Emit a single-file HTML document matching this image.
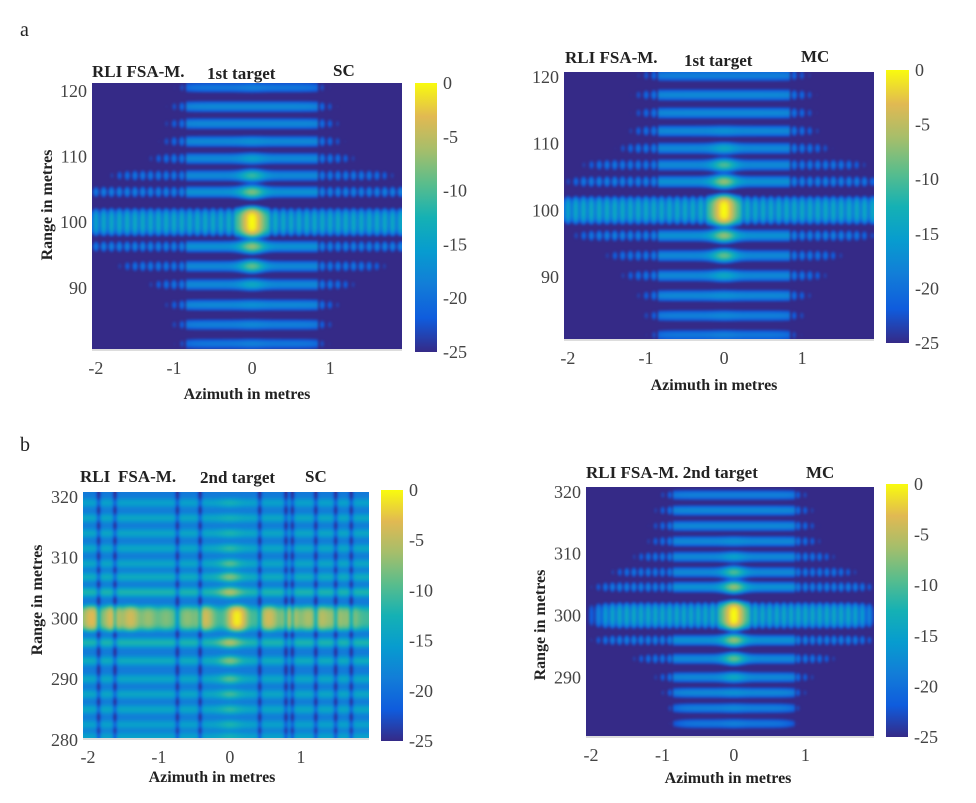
<!DOCTYPE html>
<html><head><meta charset="utf-8">
<style>
html,body{margin:0;padding:0;background:#fff;}
#root{position:relative;width:976px;height:803px;overflow:hidden;background:#fff;font-family:"Liberation Serif",serif;}
canvas{position:absolute;}
svg{position:absolute;left:0;top:0;}
.cb{position:absolute;background:linear-gradient(to top,#352a87 0%,#0f5cdd 12.5%,#127dd8 25%,#079ccf 37.5%,#15b1b4 50%,#59bd8c 62.5%,#a5be6b 75%,#e1b952 87.5%,#f9fb0e 100%);}
</style></head>
<body>
<div id="root">
<canvas id="c1"></canvas>
<canvas id="c2"></canvas>
<canvas id="c3"></canvas>
<canvas id="c4"></canvas>
<div class="cb" style="left:415px;top:83px;width:22px;height:269px"></div>
<div class="cb" style="left:886px;top:70px;width:23px;height:273px"></div>
<div class="cb" style="left:381px;top:490px;width:22px;height:251px"></div>
<div class="cb" style="left:886px;top:484px;width:22px;height:253px"></div>
<svg id="ov" width="976" height="803"></svg>
</div>
<script>
// ---- data (dB levels) ----
const cbTicks=[0,-5,-10,-15,-20,-25];
const xTicks=[-2,-1,0,1];
const yTicksA=[120,110,100,90];
const yTicksB=[320,310,300,290,280];
const yTicksB2=[320,310,300,290];
// panel 1 (1st target SC)
const p1Rows=[120.5,117.6,115,112.3,109.7,107.1,104.6,100,96.3,93.3,90.5,87.4,84.4,81.5];
const p1Peak=[-19,-18,-18,-17,-15,-11,-8,0,-7,-9,-14,-17,-18,-19];
const p1Level=[-20,-18,-18,-18,-18,-18,-17,-14,-17,-18,-18,-18,-19,-20];
const p1Width=[0.9,0.95,1.0,1.05,1.2,1.7,2.1,2.1,2.1,1.6,1.2,1.0,0.95,0.9];
// panel 2 (1st target MC)
const p2Rows=[120.2,117.3,114.6,111.9,109.3,106.8,104.3,100,96.2,93.2,90.2,87.2,84.2,81.3];
const p2Peak=[-19,-18,-18,-17,-14,-10,-7,0,-7,-9,-14,-17,-18,-19];
const p2Level=[-19,-18,-18,-18,-18,-18,-17,-14,-17,-18,-18,-18,-19,-20];
const p2Width=[1.0,1.05,1.05,1.1,1.25,1.7,1.9,2.1,1.8,1.4,1.2,1.0,0.95,0.9];
// panel 3 (2nd target SC)
const p3Rows=[319,316.5,314,311.5,309,306.8,304.3,300,296,293,290,287.5,285,282.5,280.5];
const p3Peak=[-14,-14,-13,-12,-10,-8,-6,0,-6,-8,-10,-11,-12,-13,-14];
const p3Level=[-17,-16,-16,-16,-16,-15,-13,-6,-13,-15,-16,-16,-16,-17,-17];
const p3Width=[2.5,2.5,2.5,2.5,2.5,2.5,2.5,2.5,2.5,2.5,2.5,2.5,2.5,2.5,2.5];
const p3Streaks=[-1.85,-1.62,-0.74,-0.42,0.42,0.79,0.88,1.21,1.49,1.71];
const p3BlobPos=[-1.95,-1.65,-1.4,-1.15,-0.9,-0.6,-0.35,0.1,0.55,0.85,1.1,1.3,1.5,1.7];
const p3BlobLvl=[-4,-4,-5,-9,-11,-10,-5,-1,-5,-5,-8,-7,-8,-9];
// panel 4 (2nd target MC)
const p4Rows=[319.5,317,314.5,312,309.5,307,304.6,300,296,293,290,287.5,285,282.5];
const p4Peak=[-19,-18,-18,-17,-15,-10,-7,0,-7,-9,-14,-17,-18,-19];
const p4Level=[-19,-18,-18,-18,-18,-18,-17,-14,-17,-18,-18,-18,-19,-20];
const p4Width=[0.95,1.0,1.05,1.1,1.3,1.6,1.85,1.85,1.85,1.3,1.0,0.9,0.85,0.8];

// ---- layout ----
const panels=[
 {id:'c1',rows:p1Rows,peak:p1Peak,level:p1Level,width:p1Width,center:100,bg:-27,
  px:[92,402],py:[83,349],xd:[-2.05,1.92],yd:[121.2,80.7],yt:yTicksA,cb:[415,437,83,352],
  title:[[92,77,'RLI FSA-M.'],[207,79,'1st target'],[333,76,'SC']],ylab:[52,205],xlab:[247,399]},
 {id:'c2',rows:p2Rows,peak:p2Peak,level:p2Level,width:p2Width,center:100,bg:-27,
  px:[564,874],py:[72,339],xd:[-2.05,1.92],yd:[120.75,80.7],yt:yTicksA,cb:[886,909,70,343],
  title:[[565,63,'RLI FSA-M.'],[684,66,'1st target'],[801,62,'MC']],ylab:null,xlab:[714,390]},
 {id:'c3',rows:p3Rows,peak:p3Peak,level:p3Level,width:p3Width,center:300,bg:-19,streaks:p3Streaks,blobPos:p3BlobPos,blobLvl:p3BlobLvl,
  px:[83,369],py:[492,738],xd:[-2.07,1.96],yd:[320.8,280.3],yt:yTicksB,cb:[381,403,490,741],
  title:[[80,482,'RLI'],[118,482,'FSA-M.'],[200,483,'2nd target'],[305,482,'SC']],ylab:[42,600],xlab:[212,782]},
 {id:'c4',rows:p4Rows,peak:p4Peak,level:p4Level,width:p4Width,center:300,bg:-27,
  px:[586,874],py:[487,736],xd:[-2.07,1.96],yd:[320.8,280.5],yt:yTicksB2,cb:[886,908,484,737],
  title:[[586,478,'RLI FSA-M. 2nd target'],[806,478,'MC']],ylab:[545,625],xlab:[728,783]}
];
const cmap=[[53,42,135],[15,92,221],[18,125,216],[7,156,207],[21,177,180],[89,189,140],[165,190,107],[225,185,82],[249,251,14]];
function color(t){t=Math.max(0,Math.min(1,t))*(cmap.length-1);const i=Math.min(cmap.length-2,Math.floor(t)),f=t-i;
 return cmap[i].map((c,j)=>c+(cmap[i+1][j]-c)*f);}
function value(P,r,a){
 let p=Math.pow(10,P.bg/10);
 for(let k=0;k<P.rows.length;k++){
  const isMain=Math.abs(P.rows[k]-P.center)<0.01;
  const h=isMain?1.7:0.62;
  const dr=(r-P.rows[k])/h;const rw=isMain?Math.exp(-dr*dr*dr*dr):Math.exp(-dr*dr);
  if(rw<1e-4)continue;
  const aa=Math.abs(a);
  const env=1/(1+Math.exp((aa-P.width[k])/0.08));
  let lin;
  if(isMain&&P.blobPos){
   lin=Math.pow(10,P.level[k]/10)*0.3;
   for(let b=0;b<P.blobPos.length;b++){const d=(a-P.blobPos[b])/0.1;lin+=Math.pow(10,P.blobLvl[b]/10)*Math.exp(-d*d);}
  } else {
   const lvl=P.level[k]+(P.peak[k]-P.level[k])*Math.exp(-(a/0.16)*(a/0.16));
   lin=Math.pow(10,lvl/10);
  }
  let s=1;
  const thr=isMain?0.22:0.85;
  if(aa>thr&&!P.blobPos){const c=Math.cos(Math.PI*a/0.1);s=isMain?(0.25+0.75*c*c):(0.1+0.6*c*c);}
  p+=lin*rw*env*s;
 }
 if(P.streaks){for(const c of P.streaks){const d=(a-c)/0.035;p*=1-0.8*Math.exp(-d*d);}}
 return 10*Math.log10(p);
}
panels.forEach(P=>{
 const cv=document.getElementById(P.id);
 const W=P.px[1]-P.px[0],H=P.py[1]-P.py[0];
 cv.width=W;cv.height=H;cv.style.left=P.px[0]+'px';cv.style.top=P.py[0]+'px';
 const ctx=cv.getContext('2d');
 const off=document.createElement('canvas');off.width=W;off.height=H;
 const octx=off.getContext('2d');const img=octx.createImageData(W,H);
 for(let y=0;y<H;y++){const r=P.yd[0]+(P.yd[1]-P.yd[0])*(y+0.5)/H;
  for(let x=0;x<W;x++){const a=P.xd[0]+(P.xd[1]-P.xd[0])*(x+0.5)/W;
   const v=Math.max(-25,Math.min(0,value(P,r,a)));const c=color((v+25)/25);const o=(y*W+x)*4;
   img.data[o]=c[0];img.data[o+1]=c[1];img.data[o+2]=c[2];img.data[o+3]=255;}}
 octx.putImageData(img,0,0);
 ctx.drawImage(off,0,0);
 ctx.filter='blur(1.2px)';
 ctx.drawImage(off,0,0);
});
// ---- annotations ----
const NS='http://www.w3.org/2000/svg';const ov=document.getElementById('ov');
function el(tag,attrs,txt){const e=document.createElementNS(NS,tag);for(const k in attrs)e.setAttribute(k,attrs[k]);if(txt!==undefined)e.textContent=txt;ov.appendChild(e);return e;}
let t;
t=el('text',{x:20,y:36,'font-size':20,fill:'#222'},'a');


t=el('text',{x:20,y:451,'font-size':20,fill:'#222'},'b');


panels.forEach((P,i)=>{
 const sx=v=>P.px[0]+(v-P.xd[0])/(P.xd[1]-P.xd[0])*(P.px[1]-P.px[0]);
 const sy=v=>P.py[0]+(v-P.yd[0])/(P.yd[1]-P.yd[0])*(P.py[1]-P.py[0]);
 const l=el('line',{x1:P.px[0],x2:P.px[1],y1:P.py[1]+1,y2:P.py[1]+1,stroke:'#bbb','stroke-width':1});
 
 
 xTicks.forEach(v=>{
  const tx=el('text',{x:sx(v),y:P.py[1]+25,'font-size':18,fill:'#444','text-anchor':'middle'},String(v));
  
  
 });
 P.yt.forEach(v=>{
  const ty=el('text',{x:P.px[0]-5,y:sy(v)+6,'font-size':18,fill:'#444','text-anchor':'end'},String(v));
  
  
 });
 cbTicks.forEach(v=>{
  const yy=P.cb[3]+(v+25)/25*(P.cb[2]-P.cb[3]);
  const ct=el('text',{x:P.cb[1]+6,y:yy+6,'font-size':18,fill:'#444'},String(v));
  
  
 });
 P.title.forEach(tt=>{
  const ti=el('text',{x:tt[0],y:tt[1],'font-size':17,'font-weight':'bold',fill:'#222'},tt[2]);
  
  
 });
 if(P.ylab){
  const yl=el('text',{x:P.ylab[0],y:P.ylab[1],'font-size':16,'font-weight':'bold',fill:'#222','text-anchor':'middle',transform:'rotate(-90 '+P.ylab[0]+' '+P.ylab[1]+')'},'Range in metres');
  
  
 }
 const xl=el('text',{x:P.xlab[0],y:P.xlab[1],'font-size':16,'font-weight':'bold',fill:'#222','text-anchor':'middle'},'Azimuth in metres');
 
 
});
</script>
</body></html>
